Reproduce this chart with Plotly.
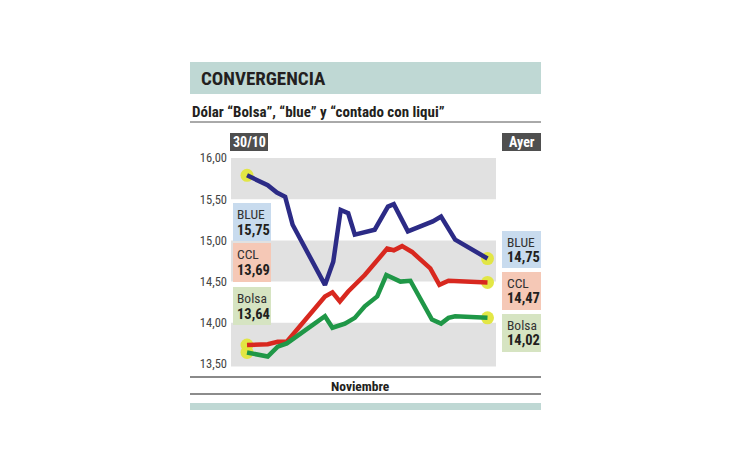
import plotly.graph_objects as go

# ---------------- data ----------------
# x = days since 30/10
blue_x = [0, 2.5, 3.6, 4.6, 5.5, 9.4, 10.4, 11.3, 12.2, 13.0, 15.4, 17.0, 17.7, 19.4, 22.4, 23.4, 25.1, 29]
blue_y = [15.79, 15.67, 15.58, 15.53, 15.19, 14.46, 14.74, 15.37, 15.33, 15.07, 15.13, 15.41, 15.44, 15.11, 15.23, 15.29, 15.01, 14.78]

ccl_x = [0, 2.5, 3.7, 4.8, 9.4, 10.3, 11.2, 12.2, 14.2, 16.9, 17.7, 18.7, 19.9, 22.1, 23.2, 24.3, 29]
ccl_y = [13.73, 13.74, 13.77, 13.77, 14.32, 14.37, 14.26, 14.38, 14.58, 14.90, 14.88, 14.93, 14.86, 14.66, 14.46, 14.51, 14.49]

bolsa_x = [0, 2.5, 3.7, 4.8, 9.4, 10.3, 11.8, 13.0, 14.2, 15.7, 16.8, 18.5, 19.7, 22.3, 23.4, 24.3, 25.1, 29]
bolsa_y = [13.64, 13.59, 13.71, 13.75, 14.08, 13.94, 13.99, 14.06, 14.20, 14.32, 14.58, 14.50, 14.51, 14.04, 13.99, 14.06, 14.08, 14.06]

series_names = ["BLUE", "CCL", "Bolsa"]
start_labels = ["15,75", "13,69", "13,64"]
end_labels = ["14,75", "14,47", "14,02"]
y_ticks = [13.5, 14.0, 14.5, 15.0, 15.5, 16.0]
title = "CONVERGENCIA"
subtitle = "Dólar “Bolsa”, “blue” y “contado con liqui”"
start_tag = "30/10"
end_tag = "Ayer"
x_label = "Noviembre"

# ---------------- style ----------------
W, H = 730, 460
L, R, T, B = 231, 496, 150, 372
FONT = "Liberation Sans Narrow, Arial Narrow, Roboto Condensed, Liberation Sans, Arial"
line_colors = ["#2c2b86", "#d8281f", "#1f9747"]
box_colors = ["#c8dbee", "#f5c8b6", "#d6e4c2"]
marker_color = "rgba(226,230,60,0.95)"
band_color = "#e1e1e1"
teal = "#bfd8d4"


def pxx(x):
    return (x - L) / (R - L)


def pxy(y):
    return (B - y) / (B - T)


fig = go.Figure()

series = [(blue_x, blue_y), (ccl_x, ccl_y), (bolsa_x, bolsa_y)]
# end markers first
for xs, ys in series:
    fig.add_trace(go.Scatter(x=[xs[0], xs[-1]], y=[ys[0], ys[-1]], mode="markers",
                             marker=dict(size=13, color=marker_color, line=dict(width=0)),
                             hoverinfo="skip", showlegend=False))
for (xs, ys), c, n in zip(series, line_colors, series_names):
    fig.add_trace(go.Scatter(x=xs, y=ys, mode="lines", name=n,
                             line=dict(color=c, width=4.5), showlegend=False))

shapes = []
# alternating bands
for lo in [13.5, 14.5, 15.5]:
    shapes.append(dict(type="rect", xref="paper", yref="y", x0=0, x1=1, y0=lo - (0.03 if lo == 13.5 else 0), y1=lo + 0.5,
                       fillcolor=band_color, line=dict(width=0), layer="below"))


def rect(x0, y0, x1, y1, color):
    shapes.append(dict(type="rect", xref="paper", yref="paper", x0=pxx(x0), x1=pxx(x1),
                       y0=pxy(y1), y1=pxy(y0), fillcolor=color, line=dict(width=0), layer="below"))


def hline(x0, x1, y, color, width):
    shapes.append(dict(type="line", xref="paper", yref="paper", x0=pxx(x0), x1=pxx(x1),
                       y0=pxy(y), y1=pxy(y), line=dict(color=color, width=width), layer="below"))


annotations = []


def text(x, y, s, size, color="#231f20", bold=False, xanchor="left"):
    annotations.append(dict(xref="paper", yref="paper", x=pxx(x), y=pxy(y), text=("<b>%s</b>" % s) if bold else s,
                            showarrow=False, xanchor=xanchor, yanchor="middle",
                            font=dict(family=FONT, size=size, color=color)))


# title band
rect(190, 62, 541, 94, teal)
text(199, 78, title, 19, bold=True)
text(190, 112, subtitle, 15, bold=True)
hline(190, 541, 122, "#555555", 1)

# tags
rect(230, 133, 268, 151, "#4f4f4f")
text(249, 142, start_tag, 14, color="white", bold=True, xanchor="center")
rect(502, 133, 541, 151, "#4f4f4f")
text(521.5, 142, end_tag, 14, color="white", bold=True, xanchor="center")

# left label boxes
left_boxes = [(203, 241), (243, 282), (287, 325)]
for (y0, y1), c, n, v in zip(left_boxes, box_colors, series_names, start_labels):
    rect(233, y0, 271, y1, c)
    text(235, y0 + 10.5, n, 13.5, color="#333333")
    text(235, y0 + 27, v, 14.5, bold=True)

right_boxes = [(231, 268), (272, 310), (314, 352)]
for (y0, y1), c, n, v in zip(right_boxes, box_colors, series_names, end_labels):
    rect(502, y0, 541, y1, c)
    text(505, y0 + 10.5, n, 13.5, color="#333333")
    text(505, y0 + 26.5, v, 14.5, bold=True)

# bottom
hline(190, 541, 377, "#8a8a8a", 2)
text(360, 385.5, x_label, 13.5, bold=True, xanchor="center")
hline(190, 541, 394, "#666666", 1.5)
rect(190, 403, 541, 410, teal)

x0_day = (L - 247) / 8.29
x1_day = 29 + (R - 487.5) / 8.29
y_top = 16 + (158 - T) / 82.4
y_bot = 16 - (B - 158) / 82.4

fig.update_layout(
    width=W, height=H,
    margin=dict(l=L, r=W - R, t=T, b=H - B, pad=0),
    paper_bgcolor="white", plot_bgcolor="rgba(0,0,0,0)",
    separators=",.",
    shapes=shapes, annotations=annotations,
    xaxis=dict(range=[x0_day, x1_day], visible=False),
    yaxis=dict(range=[y_bot, y_top],
               tickvals=y_ticks, tickformat=".2f", showgrid=False, zeroline=False,
               showline=False, ticks="", ticklabelstandoff=3,
               tickfont=dict(family=FONT, size=12.5, color="#444444")),
    font=dict(family=FONT),
)

fig.write_html("out.html")
